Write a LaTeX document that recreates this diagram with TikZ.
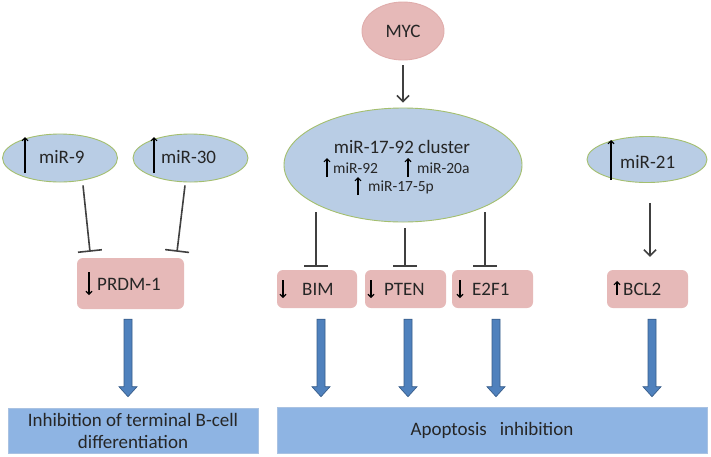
\documentclass[tikz,border=0pt]{standalone}
\usepackage{fontspec}
\setmainfont{Carlito}
\usetikzlibrary{arrows.meta,shapes.geometric,calc}
\definecolor{pinkf}{HTML}{E6B9B8}
\definecolor{pinkd}{HTML}{E0ADAC}
\definecolor{bluef}{HTML}{B9CDE5}
\definecolor{greend}{HTML}{A4BF6E}
\definecolor{botf}{HTML}{8EB4E3}
\definecolor{botd}{HTML}{A9C2E2}
\definecolor{arrf}{HTML}{4F81BD}
\definecolor{arrd}{HTML}{385D8A}
\definecolor{conn}{HTML}{404040}
\definecolor{txt}{HTML}{262626}
\begin{document}
\begin{tikzpicture}[x=1pt,y=-1pt,
 ell/.style={ellipse, fill=bluef, draw=greend, line width=0.9pt, inner sep=0pt},
 pell/.style={ellipse, fill=pinkf, draw=pinkd, line width=0.9pt, inner sep=0pt, text=txt, font=\fontsize{19}{22}\selectfont},
 pbox/.style={rectangle, rounded corners=6pt, fill=pinkf, draw=none, inner sep=0pt},
 bbox/.style={rectangle, fill=botf, draw=botd, line width=0.6pt, inner sep=0pt, text=txt, font=\fontsize{19}{22}\selectfont, align=center},
 lab/.style={inner sep=0pt, anchor=base west, text=txt, font=\fontsize{19}{22}\selectfont},
 slab/.style={lab, font=\fontsize{15.5}{18}\selectfont},
 inh/.style={draw=conn, line width=1.6pt, -{Bar[width=24pt]}},
 act/.style={draw=conn, line width=1.6pt, -{Straight Barb[length=6pt,width=12pt]}},
 updn/.style={draw=black, line width=1.1pt, -{Straight Barb[length=3pt,width=6pt]}},
 bigarr/.style={to path={let \p1=(\tikztostart), \p2=(\tikztotarget) in (\x1-4pt,\y1) -- (\x1+4pt,\y1) -- (\x1+4pt,\y2+10pt) -- (\x1+9pt,\y2+10pt) -- (\x1,\y2) -- (\x1-9pt,\y2+10pt) -- (\x1-4pt,\y2+10pt) -- cycle}, fill=arrf, draw=arrd, line width=0.7pt},
]
\fill[white] (0,0) rectangle (711,456);
\useasboundingbox (0,0) rectangle (711,456);

% ellipses
\node[pell, minimum width=82pt, minimum height=58pt] (myc) at (403,31) {MYC};
\node[ell, minimum width=238pt, minimum height=114pt] (cl) at (403,165) {};
\node[ell, minimum width=115pt, minimum height=48pt] (m9) at (60,158) {};
\node[ell, minimum width=115pt, minimum height=48pt] (m30) at (190.5,158) {};
\node[ell, minimum width=120pt, minimum height=46pt] (m21) at (647,159.5) {};

% boxes
\node[pbox, minimum width=107pt, minimum height=51pt] (prdm) at (130.5,283.5) {};
\node[pbox, minimum width=80pt, minimum height=38pt] (bim) at (317,289) {};
\node[pbox, minimum width=81pt, minimum height=38pt] (pten) at (405.5,289) {};
\node[pbox, minimum width=81pt, minimum height=38pt] (e2f1) at (492.5,289) {};
\node[pbox, minimum width=81pt, minimum height=38pt] (bcl2) at (647.5,289) {};
\node[bbox, minimum width=250pt, minimum height=45pt] (inhb) at (133,430.5) {Inhibition of terminal B-cell\\differentiation};
\node[bbox, minimum width=430pt, minimum height=46pt] (apop) at (492,430) {Apoptosis\ \ \ inhibition};

% labels
\node[lab] (t9) at (39,163) {miR-9};
\node[lab] (t30) at (161,163) {miR-30};
\node[lab] (t21) at (620,168) {miR-21};
\node[lab] (tprdm) at (97,290) {PRDM-1};
\node[lab] (tbim) at (302,295) {BIM};
\node[lab] (tpten) at (384,295) {PTEN};
\node[lab] (te2f1) at (472,295) {E2F1};
\node[lab] (tbcl2) at (623,295) {BCL2};
\node[lab, anchor=base] (tcl) at (402,153) {miR-17-92 cluster};
\node[slab] (t92) at (333,173) {miR-92};
\node[slab] (t20a) at (417,173) {miR-20a};
\node[slab] (t175p) at (368,191) {miR-17-5p};

% small up/down arrows
\draw[updn] ([shift={(-14,10)}]t9.base west) -- ([shift={(-14,-26)}]t9.base west);
\draw[updn] ([shift={(-7,10)}]t30.base west) -- ([shift={(-7,-26)}]t30.base west);
\draw[updn] ([shift={(-9,12)}]t21.base west) -- ([shift={(-9,-28)}]t21.base west);
\draw[updn] ([shift={(-8,-18)}]tprdm.base west) -- ([shift={(-8,5)}]tprdm.base west);
\draw[updn] ([shift={(-19,-15)}]tbim.base west) -- ([shift={(-19,3)}]tbim.base west);
\draw[updn] ([shift={(-13,-15)}]tpten.base west) -- ([shift={(-13,3)}]tpten.base west);
\draw[updn] ([shift={(-12,-15)}]te2f1.base west) -- ([shift={(-12,3)}]te2f1.base west);
\draw[updn] ([shift={(-6,0)}]tbcl2.base west) -- ([shift={(-6,-14)}]tbcl2.base west);
\draw[updn] ([shift={(-6,4)}]t92.base west) -- ([shift={(-6,-15)}]t92.base west);
\draw[updn] ([shift={(-9,4)}]t20a.base west) -- ([shift={(-9,-15)}]t20a.base west);
\draw[updn] ([shift={(-10,4)}]t175p.base west) -- ([shift={(-10,-14)}]t175p.base west);

% connectors
\draw[act] ([shift={(0,5)}]myc.south) -- ([shift={(0,-5)}]cl.north);
\draw[act] ([shift={(3,20)}]m21.south) -- ([shift={(2.5,-13)}]bcl2.north);
\draw[inh] ([shift={(23,3)}]m9.south) -- ([shift={(-40.5,-6)}]prdm.north);
\draw[inh] ([shift={(-5.5,3)}]m30.south) -- ([shift={(46.5,-6)}]prdm.north);
\draw[inh] ([shift={(-87,-10)}]cl.south) -- ([shift={(-1,-3)}]bim.north);
\draw[inh] ([shift={(2,6)}]cl.south) -- ([shift={(-0.5,-3)}]pten.north);
\draw[inh] ([shift={(82,-10)}]cl.south) -- ([shift={(-7.5,-3)}]e2f1.north);

% big block arrows
\coordinate (a1) at ([shift={(-2.5,10)}]prdm.south);
\coordinate (a2) at ([shift={(4,11)}]bim.south);
\coordinate (a3) at ([shift={(2.5,11)}]pten.south);
\coordinate (a4) at ([shift={(3.5,11)}]e2f1.south);
\coordinate (a5) at ([shift={(4.5,11)}]bcl2.south);
\path[bigarr] (a1) to ($(a1 |- inhb.north)+(0,-11)$);
\path[bigarr] (a2) to ($(a2 |- apop.north)+(0,-10)$);
\path[bigarr] (a3) to ($(a3 |- apop.north)+(0,-10)$);
\path[bigarr] (a4) to ($(a4 |- apop.north)+(0,-10)$);
\path[bigarr] (a5) to ($(a5 |- apop.north)+(0,-10)$);
\end{tikzpicture}
\end{document}
